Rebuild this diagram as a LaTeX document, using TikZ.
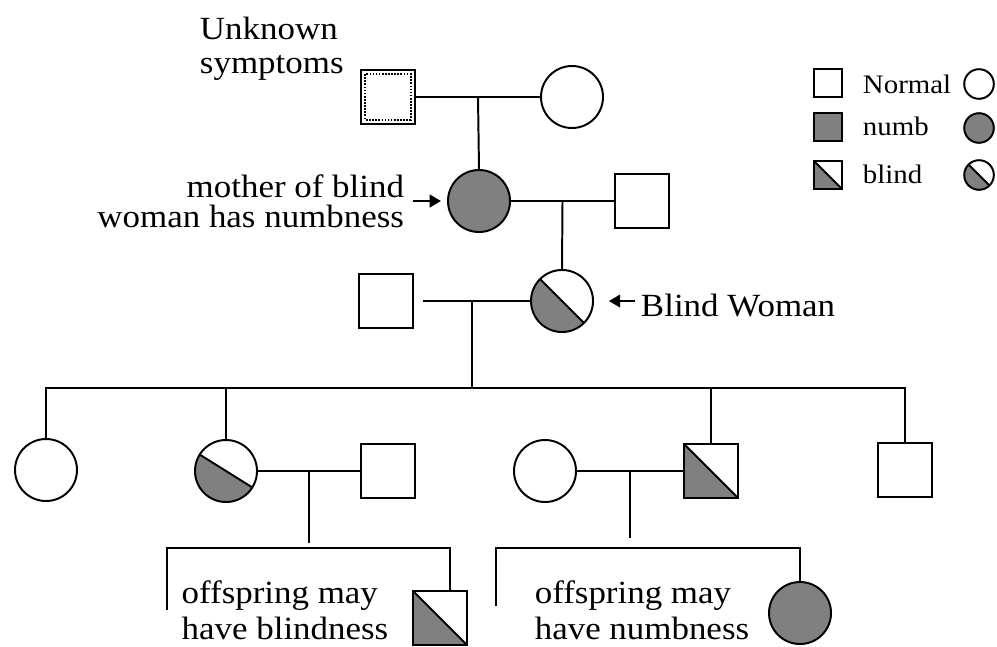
\documentclass[tikz,border=0pt]{standalone}
\usepackage{fontspec}
\setmainfont{Liberation Serif}[FakeStretch=1.08]
\usetikzlibrary{calc,arrows.meta}

\begin{document}
\begin{tikzpicture}[x=0.025cm, y=-0.025cm, line width=1.4pt,
  male/.style={draw, minimum size=1.35cm, inner sep=0pt},
  female/.style={draw, circle, minimum size=1.55cm, inner sep=0pt},
  numb/.style={fill=black!50},
  blind/.style={path picture={
    \coordinate (pc) at (path picture bounding box.center);
    \fill[black!50] ($(pc)+(#1+180:2cm)$) -- ($(pc)+(#1:2cm)$)
      -- ($(pc)+(#1-45:3cm)$) -- ($(pc)+(#1-135:3cm)$) -- cycle;
    \draw ($(pc)+(#1+180:2cm)$) -- ($(pc)+(#1:2cm)$);}},
  blind/.default=-45,
  unknown/.style={path picture={
    \draw[line width=1.2pt, densely dotted]
      ([shift={(3pt,-3pt)}]path picture bounding box.north west) rectangle
      ([shift={(-3pt,3pt)}]path picture bounding box.south east);}},
  lbl/.style={font=\fontsize{23}{24}\selectfont, inner sep=0pt},
  arr/.style={-{Triangle[length=8pt, width=9pt]}}]

  \useasboundingbox (0,0) rectangle (997,646);

  % Generation I
  \node[male, unknown] (U1) at (388,97) {};
  \node[female] (W1) at (572,97) {};
  \node[lbl, align=left, anchor=west] (Ulab) at (199,49) {Unknown\\symptoms};

  % Generation II
  \node[female, numb] (M2) at (479,201) {};
  \node[male] (H2) at (642,201) {};
  \node[lbl, align=right, anchor=east, font=\fontsize{23}{21.5}\selectfont] (Mlab) at (405,201) {mother of blind\\woman has numbness};

  % Generation III
  \node[male] (H3) at (386,301) {};
  \node[female, blind] (B3) at (562,301) {};
  \node[lbl, anchor=base west] (Blab) at (640,316) {Blind Woman};

  % Generation IV
  \node[female] (K1) at (46,470) {};
  \node[female, blind=-32] (K2) at (226,471) {};
  \node[male] (P2) at (388,471) {};
  \node[female] (P5) at (545,471) {};
  \node[male, blind] (K5) at (711,471) {};
  \node[male] (K6) at (905,470) {};

  % Generation V
  \node[male, blind] (G2) at (440,618) {};
  \node[female, numb] (G5) at (800,613) {};
  \node[lbl, align=left, font=\fontsize{23}{25.5}\selectfont] (G2lab) at (285,610) {offspring may\\have blindness};
  \node[lbl, align=left, font=\fontsize{23}{25.5}\selectfont] (G5lab) at (642,610) {offspring may\\have numbness};

  % Legend
  \node[male, minimum size=0.72cm] (LN) at (828,83) {};
  \node[male, numb, minimum size=0.72cm] (LU) at (828,127) {};
  \node[male, blind, minimum size=0.72cm] (LB) at (828,175) {};
  \node[lbl, font=\fontsize{19}{19}\selectfont, anchor=base west] (LNt) at (862,93) {Normal};
  \node[lbl, font=\fontsize{19}{19}\selectfont, anchor=base west] (LUt) at (862,135) {numb};
  \node[lbl, font=\fontsize{19}{19}\selectfont, anchor=base west] (LBt) at (862,183) {blind};
  \node[female, minimum size=0.74cm] (LNf) at (979,84) {};
  \node[female, numb, minimum size=0.74cm] (LUf) at (979,128) {};
  \node[female, blind, minimum size=0.74cm] (LBf) at (979,175) {};

  % Matings and descent
  \draw (U1) -- (W1);
  \coordinate (m1) at ($(U1.east)!0.5!(W1.west)$);
  \draw (m1) -- (M2.north);
  \draw (M2) -- (H2);
  \coordinate (m2) at ($(M2.east)!0.5!(H2.west)$);
  \draw (m2) -- (B3.north);
  \draw[shorten <=6.4pt] (H3) -- (B3);
  \coordinate (m3) at ($(H3.east)!0.5!(B3.west)$);
  \coordinate (s3) at ($(m3)+(0,87)$);
  \draw (m3) -- (s3);
  \draw (K1.north) |- (s3) -| (K6.north);
  \draw (K2.north) -- (K2.north |- s3);
  \draw (K5.north) -- (K5.north |- s3);

  \draw (K2) -- (P2);
  \coordinate (m4) at ($(K2.east)!0.5!(P2.west)$);
  \coordinate (s4) at ($(m4)+(0,77)$);
  \draw[shorten >=3.5pt] (m4) -- (s4);
  \coordinate (e4) at (167,610);
  \draw (e4) |- (s4) -| ([xshift=7pt]G2.north);

  \draw (P5) -- (K5);
  \coordinate (m5) at ($(P5.east)!0.5!(K5.west)$);
  \coordinate (s5) at ($(m5)+(0,77)$);
  \draw[shorten >=7pt] (m5) -- (s5);
  \coordinate (e5) at (496,606);
  \draw (e5) |- (s5) -| (G5.north);

  % Pointers
  \draw[arr, shorten <=5.7pt, shorten >=4.3pt] (Mlab.east |- M2.west) -- (M2.west);
  \draw[arr, shorten <=3.5pt, shorten >=10.6pt] (Blab.west |- B3.east) -- (B3.east);

\end{tikzpicture}
\end{document}
